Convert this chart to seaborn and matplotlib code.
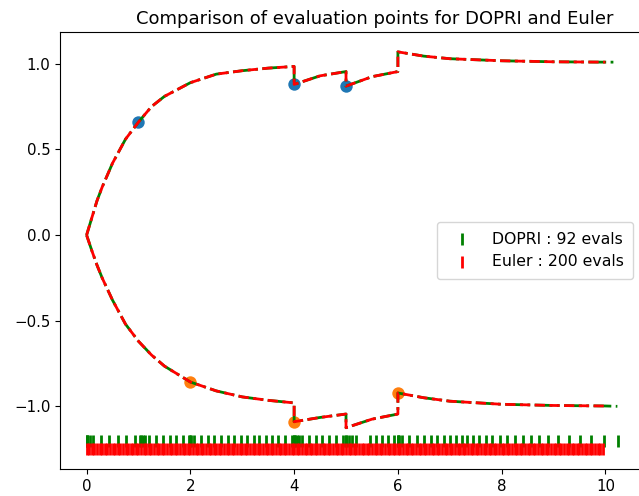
import numpy as np
import matplotlib
matplotlib.use("Agg")
import matplotlib.pyplot as plt
import seaborn as sns

plt.rcParams["font.size"] = 10.8

# solution curves, jumps at t = 4, 5, 6
curve_t = [0, 0.1, 0.2, 0.3, 0.5, 0.75, 1.0, 1.25, 1.5, 2.0, 2.5, 3.0, 3.5, 4.0,
           4.0, 4.5, 5.0, 5.0, 5.5, 6.0, 6.0, 6.5, 7.0, 8.0, 9.0, 10.0, 10.23]
upper_y = [0, 0.10, 0.20, 0.28, 0.42, 0.56, 0.66, 0.75, 0.81, 0.89, 0.94, 0.96, 0.975, 0.985,
           0.88, 0.93, 0.955, 0.87, 0.925, 0.955, 1.07, 1.045, 1.03, 1.018, 1.012, 1.01, 1.01]
lower_y = [0, -0.09, -0.175, -0.25, -0.38, -0.52, -0.62, -0.70, -0.765, -0.858, -0.91, -0.945, -0.965, -0.98,
           -1.09, -1.065, -1.045, -1.125, -1.075, -1.045, -0.922, -0.95, -0.97, -0.988, -0.995, -0.998, -1.0]

# event points
upper_pts_t = [1, 4, 5]
upper_pts_y = [0.66, 0.88, 0.87]
lower_pts_t = [2, 4, 6]
lower_pts_y = [-0.858, -1.089, -0.922]

# DOPRI evaluation times (92)
dopri_evals = [0.0, 0.0, 0.01, 0.06, 0.13, 0.28, 0.44, 0.60, 0.76, 0.93, 1.03, 1.05, 1.08, 1.12,
               1.20, 1.34, 1.47, 1.60, 1.73, 1.85, 1.97, 2.0, 2.02, 2.07, 2.21, 2.34, 2.46,
               2.59, 2.72, 2.85, 2.97, 3.10, 3.22, 3.33, 3.46, 3.58, 3.69, 3.82, 3.95,
               4.0, 4.0, 4.02, 4.06, 4.10, 4.16, 4.29, 4.42, 4.54, 4.67, 4.81, 4.94,
               5.0, 5.0, 5.06, 5.11, 5.20, 5.46, 5.57, 5.70, 5.81, 5.93,
               6.0, 6.0, 6.03, 6.08, 6.22, 6.37, 6.51, 6.63, 6.76, 6.88, 7.00, 7.12, 7.24,
               7.34, 7.45, 7.57, 7.69, 7.81, 7.96, 8.10, 8.26, 8.41, 8.56, 8.72, 8.89,
               9.09, 9.29, 9.51, 9.73, 9.98, 10.25]
# Euler: 200 evaluations on a uniform grid
euler_step = 0.05
euler_evals = np.arange(200) * euler_step

dopri_rug_y = -1.2
euler_rug_y = -1.25

fig = plt.figure(figsize=(6.39, 4.96), dpi=100)
ax = fig.add_axes([60 / 639, 1 - 469 / 496, 585 / 639, 437 / 496])

sns.scatterplot(x=upper_pts_t, y=upper_pts_y, color="C0", s=80, linewidth=0, zorder=1, ax=ax)
sns.scatterplot(x=lower_pts_t, y=lower_pts_y, color="C1", s=80, linewidth=0, zorder=1, ax=ax)

for ys in (upper_y, lower_y):
    sns.lineplot(x=curve_t, y=ys, sort=False, estimator=None, color="green",
                 linestyle="-.", linewidth=2, ax=ax)
    sns.lineplot(x=curve_t[:-1], y=ys[:-1], sort=False, estimator=None, color="red",
                 linestyle="--", linewidth=2, ax=ax)

ax.scatter(dopri_evals, [dopri_rug_y] * len(dopri_evals), marker="|", color="green",
           s=70, linewidths=2, label="DOPRI : %d evals" % len(dopri_evals))
ax.scatter(euler_evals, [euler_rug_y] * len(euler_evals), marker="|", color="red",
           s=70, linewidths=2, label="Euler : %d evals" % len(euler_evals))

ax.set_title("Comparison of evaluation points for DOPRI and Euler", fontsize=13, x=0.538)
ax.legend(loc="center right", bbox_to_anchor=(0.993, 0.5), fontsize=11.3,
          handletextpad=0.9, borderpad=0.6)

fig.savefig("out.png", dpi=100)
